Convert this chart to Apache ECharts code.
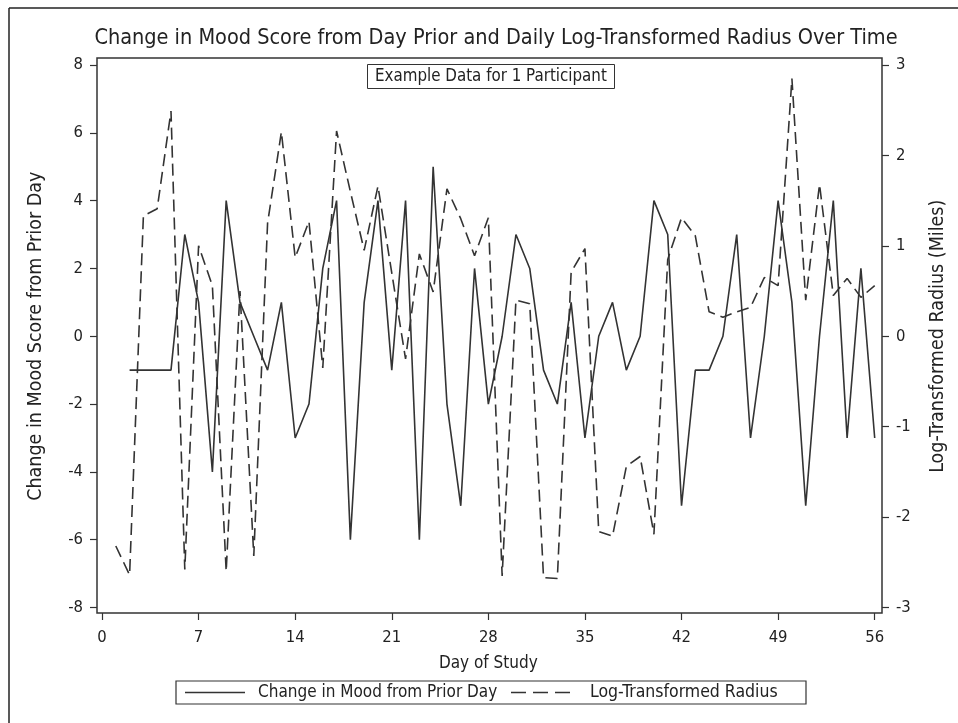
<!DOCTYPE html>
<html>
<head>
<meta charset="utf-8">
<script src="https://cdn.jsdelivr.net/npm/echarts@6/dist/echarts.min.js"></script>
<style>html,body{margin:0;padding:0;background:#fff;}#c{width:958px;height:723px;}</style>
</head>
<body>
<div id="c"></div>
<script>
var days = [1,2,3,4,5,6,7,8,9,10,11,12,13,14,15,16,17,18,19,20,21,22,23,24,25,26,27,28,29,30,31,32,33,34,35,36,37,38,39,40,41,42,43,44,45,46,47,48,49,50,51,52,53,54,55,56];
var moodChange = [null,-1,-1,-1,-1,3,1,-4,4,1,0,-1,1,-3,-2,2,4,-6,1,4,-1,4,-6,5,-2,-5,2,-2,0,3,2,-1,-2,1,-3,0,1,-1,0,4,3,-5,-1,-1,0,3,-3,0,4,1,-5,0,4,-3,2,-3];
var logRadius = [-2.32,-2.64,1.33,1.41,2.49,-2.58,1.0,0.56,-2.6,0.5,-2.43,1.25,2.26,0.87,1.27,-0.35,2.27,1.6,0.95,1.66,0.7,-0.25,0.91,0.49,1.63,1.3,0.89,1.31,-2.65,0.4,0.36,-2.67,-2.68,0.71,0.97,-2.16,-2.21,-1.44,-1.33,-2.19,0.85,1.31,1.11,0.27,0.21,0.27,0.32,0.65,0.56,2.85,0.4,1.68,0.45,0.64,0.43,0.56];
var xTicks = {min:0, max:56, interval:7};
var leftTicks = {min:-8, max:8, interval:2};
var rightTicks = {min:-3, max:3, interval:1};
var seriesNames = ['Change in Mood from Prior Day','Log-Transformed Radius'];

var FONT = '"DejaVu Sans Condensed","Liberation Sans Narrow","DejaVu Sans",sans-serif';
var TXT = '#222';
var LINE = '#333';

var moodData = days.map(function(d,i){ return [d, moodChange[i]]; });
var radiusData = days.map(function(d,i){ return [d, logRadius[i]]; });

var chart = echarts.init(document.getElementById('c'), null, {renderer:'canvas'});
chart.setOption({
  backgroundColor:'#fff',
  animation:false,
  title:[
    {text:'Change in Mood Score from Day Prior and Daily Log-Transformed Radius Over Time',
     left:491, top:22, textAlign:'center',
     textStyle:{fontFamily:FONT, fontSize:21.5, fontWeight:'normal', color:TXT}},
    {text:'Example Data for 1 Participant', left:367, top:64,
     borderColor:LINE, borderWidth:1, padding:[4,8],
     textStyle:{fontFamily:FONT, fontSize:16.8, fontWeight:'normal', color:TXT}}
  ],
  grid:{left:102, right:83.3, top:65, bottom:115.5, containLabel:false},
  xAxis:{
    type:'value', min:xTicks.min, max:xTicks.max, interval:xTicks.interval,
    offset:5.5,
    name:'Day of Study', nameLocation:'middle', nameGap:42,
    nameTextStyle:{fontFamily:FONT, fontSize:17, color:TXT},
    axisLine:{show:false, onZero:false},
    axisTick:{show:true, length:7, lineStyle:{color:LINE, width:1.2}},
    axisLabel:{fontFamily:FONT, fontSize:16.5, color:TXT, margin:16},
    splitLine:{show:false}
  },
  yAxis:[
    {type:'value', position:'left', min:leftTicks.min, max:leftTicks.max, interval:leftTicks.interval,
     offset:5,
     name:'Change in Mood Score from Prior Day', nameLocation:'middle', nameGap:51,
     nameTextStyle:{fontFamily:FONT, fontSize:19.5, color:TXT},
     axisLine:{show:false, onZero:false},
     axisTick:{show:true, length:7, lineStyle:{color:LINE, width:1.2}},
     axisLabel:{fontFamily:FONT, fontSize:16.5, color:TXT, margin:14},
     splitLine:{show:false}},
    {type:'value', position:'right', min:rightTicks.min, max:rightTicks.max, interval:rightTicks.interval,
     offset:7.3,
     name:'Log-Transformed Radius (Miles)', nameLocation:'middle', nameGap:46, nameRotate:90,
     nameTextStyle:{fontFamily:FONT, fontSize:19.5, color:TXT},
     axisLine:{show:false, onZero:false},
     axisTick:{show:true, length:7, lineStyle:{color:LINE, width:1.2}},
     axisLabel:{fontFamily:FONT, fontSize:16.5, color:TXT, margin:14},
     splitLine:{show:false}}
  ],
  graphic:[
    {type:'rect', shape:{x:97, y:58, width:785, height:555}, style:{fill:null, stroke:LINE, lineWidth:1.5}, silent:true, z:-1},
    {type:'line', shape:{x1:9, y1:8, x2:958, y2:8}, style:{stroke:'#222', lineWidth:1.5}, silent:true},
    {type:'line', shape:{x1:9, y1:8, x2:9, y2:723}, style:{stroke:'#222', lineWidth:1.5}, silent:true},
    {type:'rect', shape:{x:176, y:681, width:630, height:23}, style:{fill:'#fff', stroke:LINE, lineWidth:1.2}, silent:true},
    {type:'line', shape:{x1:185, y1:692.5, x2:245, y2:692.5}, style:{stroke:LINE, lineWidth:1.6}, silent:true},
    {type:'text', x:258, y:692.5, style:{text:seriesNames[0], fontFamily:FONT, fontSize:17, fill:TXT, verticalAlign:'middle', align:'left'}, silent:true},
    {type:'line', shape:{x1:511, y1:692.5, x2:570, y2:692.5}, style:{stroke:LINE, lineWidth:1.6, lineDash:[15,7]}, silent:true},
    {type:'text', x:590, y:692.5, style:{text:seriesNames[1], fontFamily:FONT, fontSize:17.5, fill:TXT, verticalAlign:'middle', align:'left'}, silent:true}
  ],
  series:[
    {name:seriesNames[0], type:'line', yAxisIndex:0, data:moodData,
     symbol:'none', connectNulls:false,
     lineStyle:{color:LINE, width:1.6, type:'solid'}, itemStyle:{color:LINE}},
    {name:seriesNames[1], type:'line', yAxisIndex:1, data:radiusData,
     symbol:'none',
     lineStyle:{color:LINE, width:1.6, type:[12,6]}, itemStyle:{color:LINE}}
  ]
});
</script>
</body>
</html>
